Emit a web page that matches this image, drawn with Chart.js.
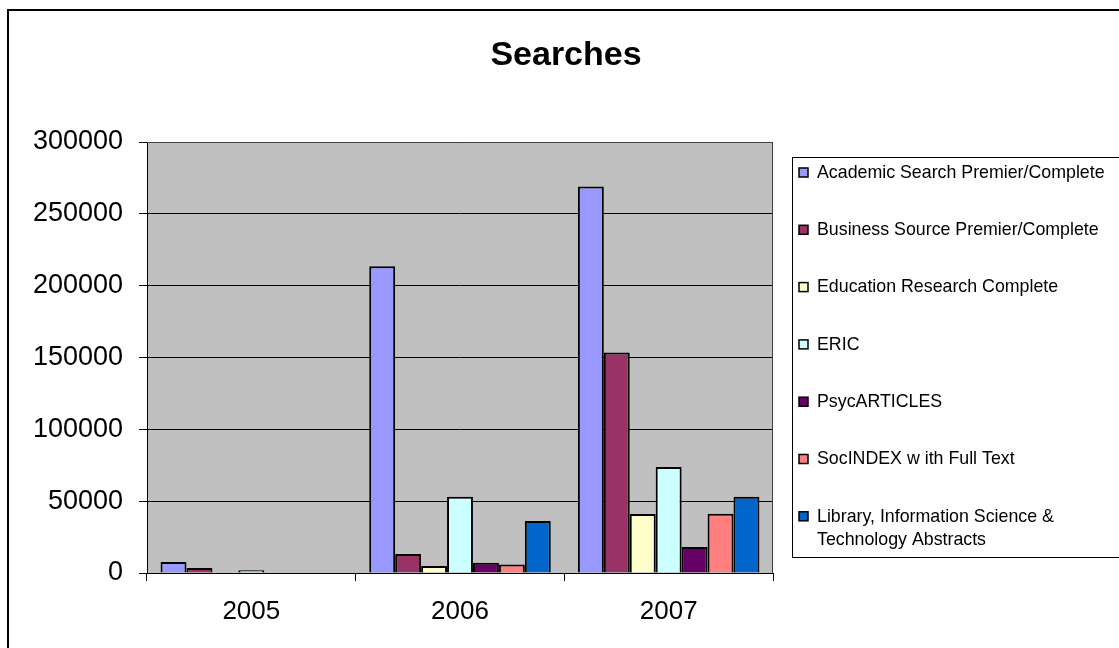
<!DOCTYPE html>
<html>
<head>
<meta charset="utf-8">
<script src="https://cdn.jsdelivr.net/npm/chart.js@4/dist/chart.umd.min.js"></script>
<style>
  html, body { margin: 0; padding: 0; background: #fff; overflow: hidden; }
  #frame { position: absolute; left: 7px; top: 9px; width: 1300px; height: 800px; border: 2px solid #000; }
  #searchChart { position: absolute; left: 0; top: 0; }
</style>
</head>
<body>
<div id="frame"></div>
<canvas id="searchChart" width="1119" height="648"></canvas>
<script>
// --- data ---
const years = ["2005", "2006", "2007"];
const databases = [
    "Academic Search Premier/Complete",
    "Business Source Premier/Complete",
    "Education Research Complete",
    "ERIC",
    "PsycARTICLES",
    "SocINDEX w ith Full Text",
    "Library, Information Science & Technology Abstracts"
];
const academicSearch = [7700, 213500, 269000];
const businessSource = [3500, 13200, 153400];
const educationResearch = [0, 4900, 41100];
const eric = [1900, 53100, 73800];
const psycArticles = [0, 7200, 18100];
const socIndex = [0, 6000, 41300];
const lista = [0, 36200, 53100];
const yTicks = [0, 50000, 100000, 150000, 200000, 250000, 300000];

const barColors = ["#9999FF", "#993366", "#FFFFCC", "#CCFFFF", "#660066", "#FF8080", "#0066CC"];
const seriesValues = [academicSearch, businessSource, educationResearch, eric, psycArticles, socIndex, lista];

// legend lines (the last entry wraps onto two lines)
const legendLines = [
    ["Academic Search Premier/Complete"],
    ["Business Source Premier/Complete"],
    ["Education Research Complete"],
    ["ERIC"],
    ["PsycARTICLES"],
    ["SocINDEX w ith Full Text"],
    ["Library, Information Science &", "Technology Abstracts"]
];

const FONT = "Arial, 'Liberation Sans', sans-serif";

// grey plot area + title + boxed legend
const excelLook = {
    id: "excelLook",
    beforeDraw(chart) {
        const { ctx, chartArea: a } = chart;
        ctx.save();
        ctx.fillStyle = "#C0C0C0";
        ctx.fillRect(a.left, a.top, a.right - a.left, a.bottom - a.top);
        ctx.restore();
    },
    afterDraw(chart) {
        const { ctx, chartArea: a } = chart;
        ctx.save();
        // plot border
        ctx.strokeStyle = "#404040";
        ctx.lineWidth = 1;
        ctx.beginPath();
        ctx.moveTo(a.left, a.top + 0.5);
        ctx.lineTo(a.right - 0.5, a.top + 0.5);
        ctx.lineTo(a.right - 0.5, a.bottom);
        ctx.stroke();

        // title
        ctx.fillStyle = "#000";
        ctx.font = "bold 34px " + FONT;
        ctx.textAlign = "center";
        ctx.textBaseline = "middle";
        ctx.fillText("Searches", 566, 56);

        // legend box
        ctx.strokeStyle = "#000";
        ctx.strokeRect(792.5, 157.5, 400, 400);
        ctx.font = "17.8px " + FONT;
        ctx.textAlign = "left";
        chart.data.datasets.forEach((ds, i) => {
            const y = 173 + i * 57.3;
            ctx.fillStyle = ds.backgroundColor;
            ctx.fillRect(799, y - 5, 9, 9);
            ctx.strokeStyle = "#000";
            ctx.lineWidth = 1.5;
            ctx.strokeRect(799, y - 5, 9, 9);
            ctx.fillStyle = "#000";
            legendLines[i].forEach((line, j) => {
                ctx.fillText(line, 817, y + j * 23);
            });
        });
        ctx.restore();
    }
};

new Chart(document.getElementById("searchChart").getContext("2d"), {
    type: "bar",
    data: {
        labels: years,
        datasets: databases.map((name, i) => ({
            label: name,
            data: seriesValues[i],
            backgroundColor: barColors[i],
            borderColor: "#000",
            borderWidth: 2,
            categoryPercentage: 0.87,
            barPercentage: 1.0
        }))
    },
    options: {
        responsive: false,
        animation: false,
        layout: { padding: { top: 142, right: 346, left: 0, bottom: 0 } },
        plugins: {
            legend: { display: false },
            title: { display: false },
            tooltip: { enabled: false }
        },
        scales: {
            x: {
                grid: { drawOnChartArea: false, color: "#000", tickLength: 8, offset: true },
                border: { color: "#000", width: 1 },
                ticks: { color: "#000", font: { size: 26, family: FONT }, padding: 15 },
                afterFit(scale) { scale.height = 75; }
            },
            y: {
                min: 0,
                max: 300000,
                afterBuildTicks(scale) { scale.ticks = yTicks.map(v => ({ value: v })); },
                grid: { color: "#000", tickLength: 8 },
                border: { color: "#000", width: 1 },
                ticks: {
                    color: "#000",
                    font: { size: 27, family: FONT },
                    padding: 16,
                    callback: v => String(v)
                },
                afterFit(scale) { scale.width = 147; }
            }
        }
    },
    plugins: [excelLook]
});
</script>
</body>
</html>
